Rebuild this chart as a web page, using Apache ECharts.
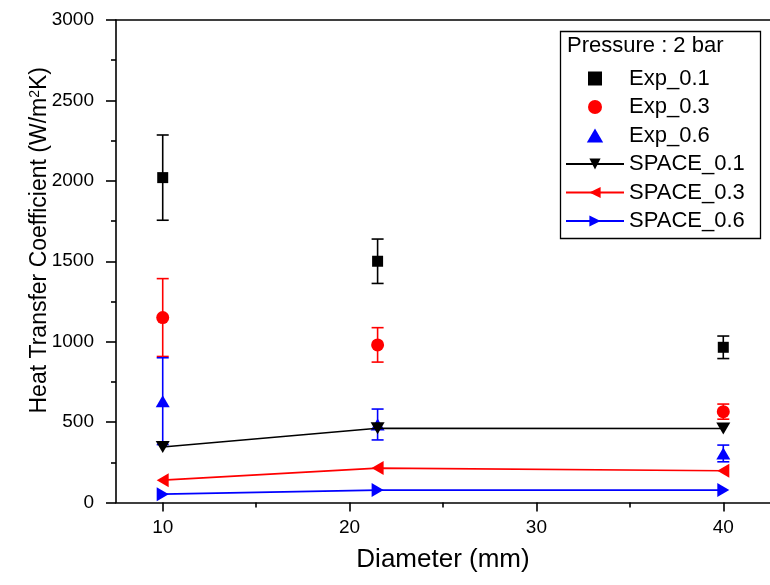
<!DOCTYPE html>
<html>
<head>
<meta charset="utf-8">
<script src="https://cdn.jsdelivr.net/npm/echarts@6/dist/echarts.min.js"></script>
<style>
  html, body { margin: 0; padding: 0; background: #fff; }
  #chart { width: 770px; height: 585px; }
</style>
</head>
<body>
<div id="chart"></div>
<script>
// ---- data ----
const diameters = [10, 21.5, 40];
const exp01 = [2020, 1500, 965];
const exp01Err = [265, 138, 70];
const exp03 = [1150, 980, 565];
const exp03Err = [242, 107, 47];
const exp06 = [630, 485, 305];
const exp06Err = [270, 96, 52];
const space01 = [345, 462, 460];
const space03 = [139, 214, 197];
const space06 = [52, 77, 77];
const xTicks = [10, 20, 30, 40];
const xMinorTicks = [15, 25, 35];
const legendTitle = 'Pressure : 2 bar';

const FONT = 'Liberation Sans, Arial, sans-serif';
const BLACK = '#000000', RED = '#ff0000', BLUE = '#0000ff';

function pairs(vals) { return diameters.map((d, i) => [d, vals[i]]); }
function triples(vals, errs) { return diameters.map((d, i) => [d, vals[i], errs[i]]); }

function errorBarSeries(name, vals, errs, color) {
  return {
    type: 'custom',
    name: name + '_err',
    xAxisIndex: 0, yAxisIndex: 0,
    data: triples(vals, errs),
    z: 2,
    silent: true,
    renderItem: function (params, api) {
      const x = api.value(0), y = api.value(1), e = api.value(2);
      const top = api.coord([x, y + e]);
      const bot = api.coord([x, y - e]);
      const hw = 6;
      const st = { stroke: color, lineWidth: 1.6 };
      return {
        type: 'group',
        children: [
          { type: 'line', shape: { x1: top[0], y1: top[1], x2: bot[0], y2: bot[1] }, style: st },
          { type: 'line', shape: { x1: top[0] - hw, y1: top[1], x2: top[0] + hw, y2: top[1] }, style: st },
          { type: 'line', shape: { x1: bot[0] - hw, y1: bot[1], x2: bot[0] + hw, y2: bot[1] }, style: st }
        ]
      };
    }
  };
}

function scatterSeries(name, vals, color, symbol, size) {
  return {
    type: 'scatter', name: name, data: pairs(vals),
    symbol: symbol, symbolSize: size, z: 3,
    itemStyle: { color: color, opacity: 1 }
  };
}

function lineSeries(name, vals, color, rotate) {
  return {
    type: 'line', name: name, data: pairs(vals),
    symbol: 'triangle', symbolSize: [14, 12], symbolRotate: rotate, z: 4,
    showSymbol: true,
    lineStyle: { color: color, width: 1.6 },
    itemStyle: { color: color, borderWidth: 0 }
  };
}

const chart = echarts.init(document.getElementById('chart'), null, { renderer: 'canvas' });

const option = {
  backgroundColor: '#ffffff',
  animation: false,
  textStyle: { fontFamily: FONT, color: BLACK },
  title: {
    text: legendTitle, left: 567, top: 35, padding: 0,
    textStyle: { fontFamily: FONT, fontSize: 22, fontWeight: 'normal', color: BLACK }
  },
  grid: { left: 116, top: 20, width: 659, height: 482.5, show: false },
  legend: {
    orient: 'vertical', left: 565, top: 67.5, padding: 0,
    itemWidth: 58, itemHeight: 14, itemGap: 6.5,
    symbolKeepAspect: true,
    textStyle: { fontFamily: FONT, fontSize: 22, color: BLACK, lineHeight: 22 },
    data: [
      { name: 'Exp_0.1', icon: 'path://M0,0 L10,0 L10,10 L0,10 Z', itemStyle: { color: BLACK } },
      { name: 'Exp_0.3', icon: 'circle' },
      { name: 'Exp_0.6', icon: 'path://M7,0 L14,12 L0,12 Z', itemStyle: { color: BLUE } },
      'SPACE_0.1', 'SPACE_0.3', 'SPACE_0.6'
    ],
    selectedMode: false
  },
  xAxis: [
    {
      type: 'value', position: 'bottom', min: 7.5, max: 42.5,
      name: 'Diameter (mm)', nameLocation: 'middle', nameGap: 44, nameMoveOverlap: false,
      nameTextStyle: { fontFamily: FONT, fontSize: 26, color: BLACK },
      axisLine: { show: true, onZero: false, lineStyle: { color: BLACK, width: 1.6 } },
      axisTick: { show: true, inside: false, length: 9, customValues: xTicks, lineStyle: { color: BLACK, width: 1.6 } },
      axisLabel: { show: true, customValues: xTicks, fontFamily: FONT, fontSize: 19, color: BLACK, margin: 16 },
      splitLine: { show: false }
    },
    {
      type: 'value', position: 'bottom', min: 7.5, max: 42.5,
      axisLine: { show: false, onZero: false },
      axisTick: { show: true, inside: false, length: 5, customValues: xMinorTicks, lineStyle: { color: BLACK, width: 1.6 } },
      axisLabel: { show: false },
      splitLine: { show: false }
    },
    {
      type: 'value', position: 'top', min: 7.5, max: 42.5,
      axisLine: { show: true, onZero: false, lineStyle: { color: BLACK, width: 1.6 } },
      axisTick: { show: false },
      axisLabel: { show: false },
      splitLine: { show: false }
    }
  ],
  yAxis: {
    type: 'value', min: 0, max: 3000, interval: 500,
    name: 'Heat Transfer Coefficient (W/m{sup|2}K)',
    nameLocation: 'middle', nameGap: 64, nameRotate: 90, nameMoveOverlap: false,
    nameTextStyle: {
      fontFamily: FONT, fontSize: 23, color: BLACK,
      padding: [0, 0, 0, 42],
      rich: { sup: { fontFamily: FONT, fontSize: 14, color: BLACK, verticalAlign: 'top', padding: [0, 0, 10, 0] } }
    },
    axisLine: { show: true, onZero: false, lineStyle: { color: BLACK, width: 1.6 } },
    axisTick: { show: true, inside: false, length: 10, lineStyle: { color: BLACK, width: 1.6 } },
    minorTick: { show: true, splitNumber: 2, length: 5, lineStyle: { color: BLACK, width: 1.6 } },
    axisLabel: { fontFamily: FONT, fontSize: 19, color: BLACK, margin: 22, formatter: function (v) { return String(v); } },
    splitLine: { show: false },
    minorSplitLine: { show: false }
  },
  series: [
    errorBarSeries('Exp_0.1', exp01, exp01Err, BLACK),
    errorBarSeries('Exp_0.3', exp03, exp03Err, RED),
    errorBarSeries('Exp_0.6', exp06, exp06Err, BLUE),
    scatterSeries('Exp_0.1', exp01, BLACK, 'rect', 11),
    scatterSeries('Exp_0.3', exp03, RED, 'circle', 13),
    scatterSeries('Exp_0.6', exp06, BLUE, 'triangle', [14, 12]),
    lineSeries('SPACE_0.1', space01, BLACK, 180),
    lineSeries('SPACE_0.3', space03, RED, 90),
    lineSeries('SPACE_0.6', space06, BLUE, -90)
  ],
  graphic: [
    {
      type: 'rect', left: 558, top: 29, z: 10, silent: true,
      shape: { width: 200, height: 207 },
      style: { fill: 'none', stroke: BLACK, lineWidth: 1.3 }
    }
  ]
};

chart.setOption(option);
</script>
</body>
</html>
